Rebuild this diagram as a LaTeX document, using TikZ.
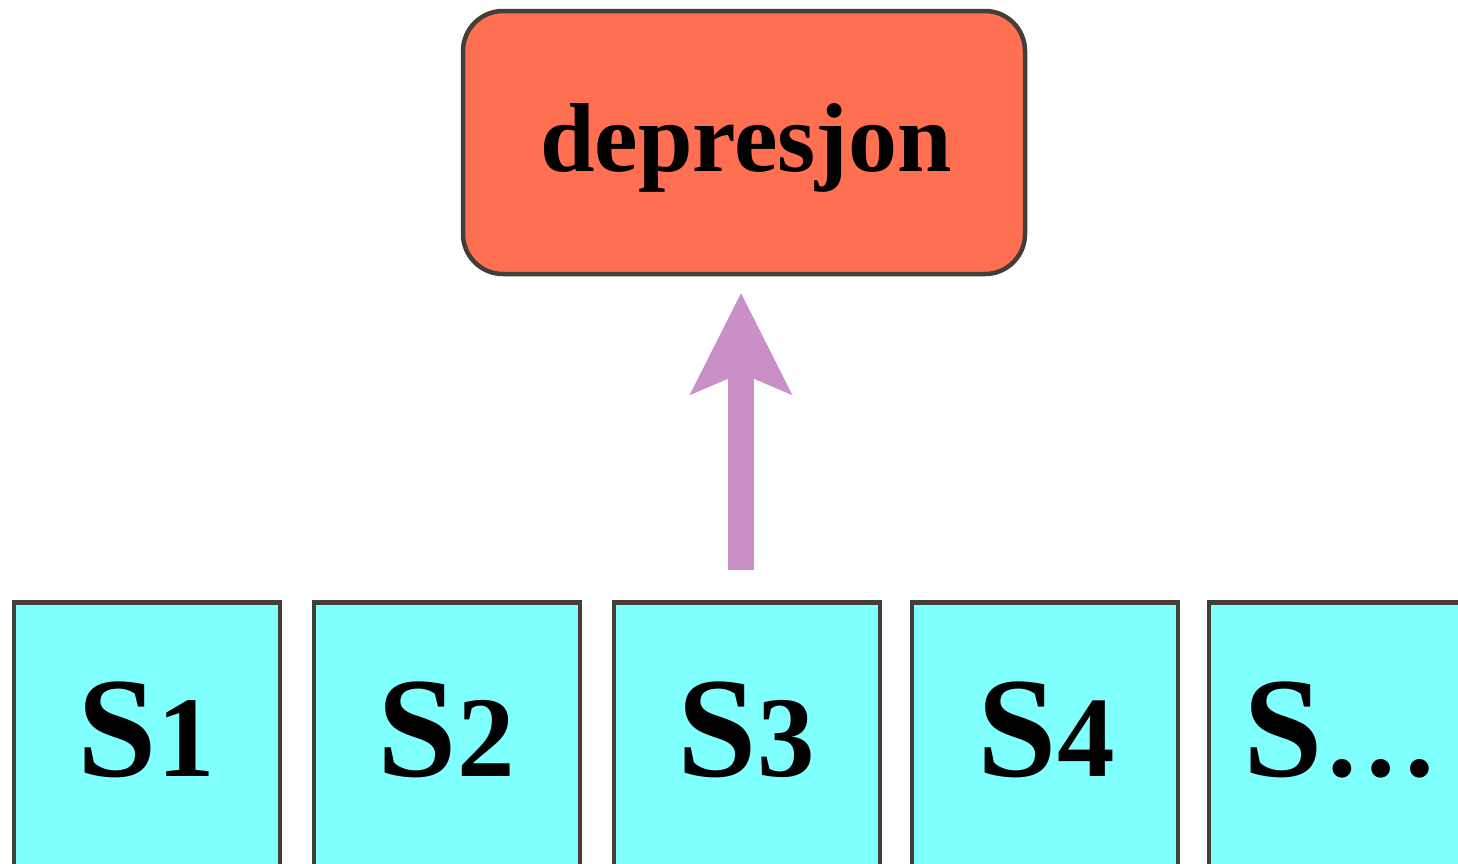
\documentclass[tikz,border=0pt]{standalone}
\usepackage{fontspec}
\setmainfont{Liberation Serif}
\usetikzlibrary{arrows.meta}
\definecolor{edgecol}{HTML}{433F38}
\definecolor{topfill}{HTML}{FF6F52}
\definecolor{boxfill}{HTML}{80FFFF}
\definecolor{arrcol}{HTML}{C990C8}
\newcommand\dg[1]{{\fontsize{115}{120}\selectfont #1}}
\begin{document}
\begin{tikzpicture}[x=1pt,y=-1pt,
  topbox/.style={draw=edgecol, fill=topfill, line width=4.5pt, rounded corners=40pt,
    minimum width=562pt, minimum height=263pt, inner sep=0pt},
  sbox/.style={draw=edgecol, fill=boxfill, line width=4.5pt,
    minimum width=266pt, minimum height=330pt, inner sep=0pt, anchor=north},
  slabel/.style={anchor=base, inner sep=0pt, font=\bfseries\fontsize{143}{150}\selectfont},
  dlabel/.style={anchor=base, inner sep=0pt, font=\bfseries\fontsize{98}{100}\selectfont},
  arr/.style={draw=arrcol, line width=26pt,
    -{Stealth[length=102pt, width=103pt, inset=22pt, line width=0pt, fill=arrcol]}}
]
\useasboundingbox (0,0) rectangle (1458,863);
\node[topbox] (dep) at (744,142.5) {};
\node[dlabel] (deplab) at (746,171) {depresjon};
\node[sbox] (s1) at (147,600) {};
\node[sbox] (s2) at (447,600) {};
\node[sbox] (s3) at (747,600) {};
\node[sbox] (s4) at (1045,600) {};
\node[sbox] (s5) at (1342,600) {};
\node[slabel] (l1) at (146,776) {S\dg{1}};
\node[slabel] (l2) at (446,776) {S\dg{2}};
\node[slabel] (l3) at (746,776) {S\dg{3}};
\node[slabel] (l4) at (1046,776) {S\dg{4}};
\node[slabel] (l5) at (1341,776) {S\dg{…}};
\draw[arr] ([xshift=-6pt,yshift=30pt]s3.north) -- ([xshift=-3pt,yshift=-17pt]dep.south);
\end{tikzpicture}
\end{document}
